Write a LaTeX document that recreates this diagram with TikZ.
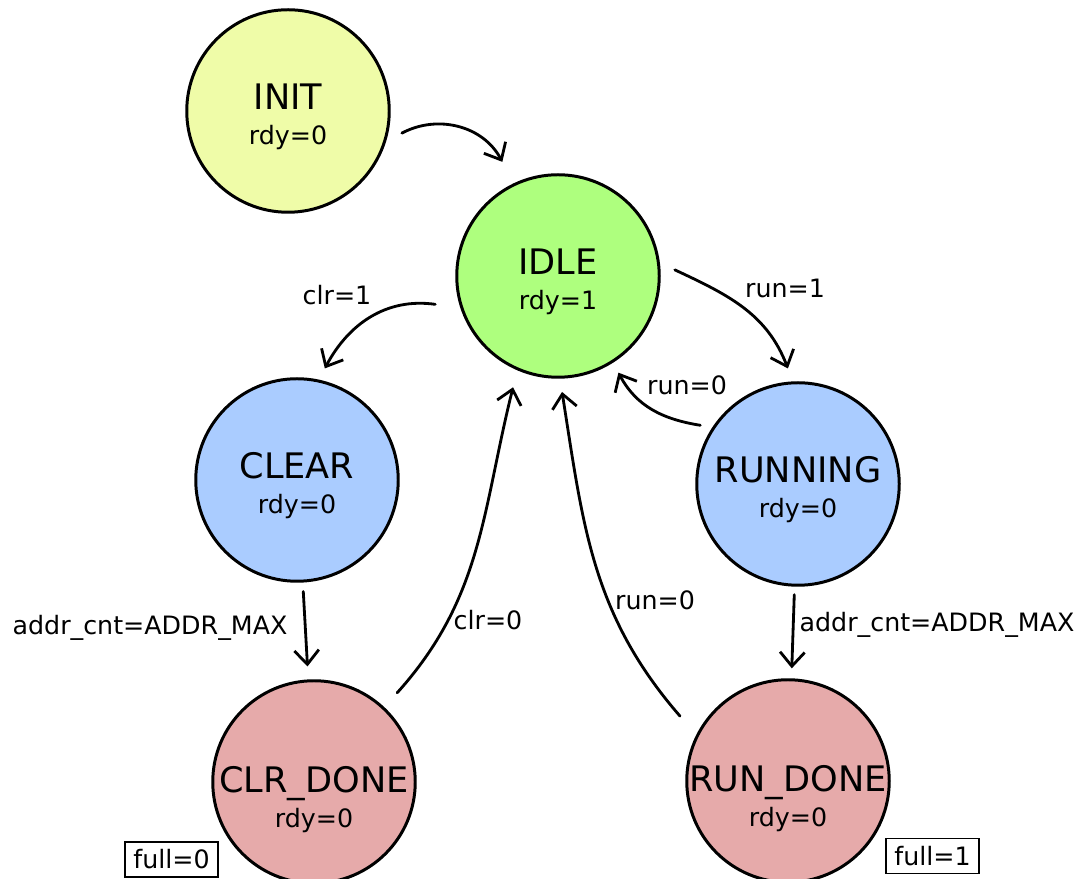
\documentclass[tikz,border=0pt]{standalone}
\usepackage{fontspec}
\setmainfont{DejaVu Sans}
\usetikzlibrary{arrows.meta}
\definecolor{Lime}{HTML}{EFFCA8}
\definecolor{Mint}{HTML}{AEFF7E}
\definecolor{Sky} {HTML}{AACCFF}
\definecolor{Rose}{HTML}{E6AAAA}
\newcommand{\stname}{\fontsize{20}{20}\selectfont}
\tikzset{
  fsm/.style={
    circle, draw=black, fill=#1,
    line width=1.7pt, minimum size=4.05cm, inner sep=0pt,
  },
  stxt/.style={
    font=\fontsize{14.4}{20}\selectfont, align=center, inner sep=0pt,
  },
  arr/.style={
    -{Straight Barb[length=8pt,width=14pt]},
    line width=1.6pt, line cap=round,
  },
  lbl/.style={
    font=\fontsize{14.4}{17}\selectfont, inner sep=1pt,
  },
  % status flag box
  flag/.style={
    rectangle, draw=black, line width=0.9pt,
    font=\fontsize{14.4}{17}\selectfont,
    minimum width=1.86cm, minimum height=0.70cm, inner sep=0pt,
  },
}
\begin{document}
\begin{tikzpicture}[x=1cm,y=1cm]
  \useasboundingbox (0,0) rectangle (21.62,17.58);
  % states
  \node[fsm=Lime] (init)    at (5.76,15.36) {};
  \node[fsm=Mint] (idle)    at (11.16,12.06){};
  \node[fsm=Sky]  (clear)   at (5.94,7.98)  {};
  \node[fsm=Sky]  (running) at (15.96,7.90) {};
  \node[fsm=Rose] (clrdone) at (6.28,1.94)  {};
  \node[fsm=Rose] (rundone) at (15.76,1.96) {};
  \node[stxt] (inittxt)    at ([yshift=-0.12cm]init.center)    {{\stname INIT}\\rdy=0};
  \node[stxt] (idletxt)    at ([yshift=-0.12cm]idle.center)    {{\stname IDLE}\\rdy=1};
  \node[stxt] (cleartxt)   at ([yshift=-0.12cm]clear.center)   {{\stname CLEAR}\\rdy=0};
  \node[stxt] (runningtxt) at ([yshift=-0.12cm]running.center) {{\stname RUNNING}\\rdy=0};
  \node[stxt] (clrdonetxt) at ([yshift=-0.36cm]clrdone.center) {{\stname CLR\_DONE}\\rdy=0};
  \node[stxt] (rundonetxt) at ([yshift=-0.36cm]rundone.center) {{\stname RUN\_DONE}\\rdy=0};
  % transitions
  \draw[arr] ([shift={(-11:2.32)}]init.center)   to[out=28,in=118]  ([shift={(116:2.54)}]idle.center);
  \draw[arr] ([shift={(193:2.52)}]idle.center)   to[out=172,in=62]  ([shift={(76:2.30)}]clear.center);
  \draw[arr] ([shift={(3:2.34)}]idle.center)     to[out=-25,in=111] ([shift={(95:2.32)}]running.center);
  \draw[arr] ([shift={(149:2.28)}]running.center) to[out=171,in=-62] ([shift={(-58:2.28)}]idle.center);
  \draw[arr, shorten <=0.18cm, shorten >=0.26cm] (clear) -- (clrdone);
  \draw[arr, shorten <=0.16cm, shorten >=0.20cm] (running) -- (rundone);
  \draw[arr] ([shift={(47:2.44)}]clrdone.center) to[out=48,in=256]  ([shift={(248:2.40)}]idle.center);
  \draw[arr] ([shift={(149:2.52)}]rundone.center) to[out=131,in=279] ([shift={(272:2.32)}]idle.center);
  % conditions
  \node[lbl] (lclr1)   at (6.74,11.68) {clr=1};
  \node[lbl] (lrun1)   at (15.70,11.82){run=1};
  \node[lbl] (lrun0a)  at (13.74,9.88) {run=0};
  \node[lbl] (laddra)  at (3.00,5.02)  {addr\_cnt=ADDR\_MAX};
  \node[lbl] (laddrb)  at (18.74,5.08) {addr\_cnt=ADDR\_MAX};
  \node[lbl] (lclr0)   at (9.76,5.18)  {clr=0};
  \node[lbl] (lrun0b)  at (13.10,5.58) {run=0};
  \node[flag] (full0) at (3.43,0.39) {full=0};
  \node[flag] (full1) at (18.65,0.46){full=1};
\end{tikzpicture}
\end{document}
